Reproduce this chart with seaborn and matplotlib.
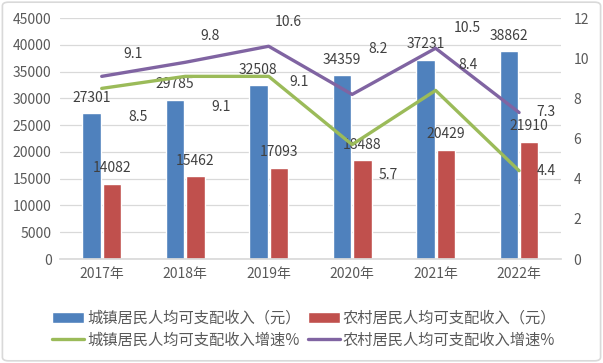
import numpy as np
import pandas as pd
import matplotlib
matplotlib.use("Agg")
import matplotlib.pyplot as plt
from matplotlib.patches import FancyBboxPatch, Patch
from matplotlib.lines import Line2D
import seaborn as sns

# data
years = ["2017年", "2018年", "2019年", "2020年", "2021年", "2022年"]
urban_income = [27301, 29785, 32508, 34359, 37231, 38862]
rural_income = [14082, 15462, 17093, 18488, 20429, 21910]
urban_growth = [8.5, 9.1, 9.1, 5.7, 8.4, 4.4]
rural_growth = [9.1, 9.8, 10.6, 8.2, 10.5, 7.3]

urban_name = "城镇居民人均可支配收入（元）"
rural_name = "农村居民人均可支配收入（元）"
urban_g_name = "城镇居民人均可支配收入增速%"
rural_g_name = "农村居民人均可支配收入增速%"

# label offsets for the growth labels (pixels, dx, dy with y up)
urban_lbl_off = [(36, -29), (36, -31), (30, -6), (36, -30), (32, 25), (27, 0)]
rural_lbl_off = [(31, 22), (25, 26), (20, 24), (26, 45), (32, 20), (27, 0)]

C_BLUE = "#4f81bd"
C_RED = "#c0504d"
C_GREEN = "#9bbb59"
C_PURPLE = "#8064a2"
TXT = "#404040"
TICK = "#595959"

sns.set_theme(style="white")
plt.rcParams["font.family"] = ["Noto Sans CJK SC", "DejaVu Sans"]

bars = pd.DataFrame({
    "year": years * 2,
    "value": urban_income + rural_income,
    "series": [urban_name] * 6 + [rural_name] * 6,
})
lines = pd.DataFrame({
    "pos": list(range(len(years))) * 2,
    "rate": urban_growth + rural_growth,
    "series": [urban_g_name] * 6 + [rural_g_name] * 6,
})

fig = plt.figure(figsize=(6.03, 3.63), dpi=100)
ax = fig.add_axes([0.0995, 0.2865, 0.8305, 0.6635])

sns.barplot(data=bars, x="year", y="value", hue="series", order=years,
            palette=[C_BLUE, C_RED], width=0.49, gap=0.1, saturation=1,
            ax=ax, legend=False)

ax.set_ylim(0, 45000)
ax.set_yticks(np.arange(0, 45001, 5000))
ax.set_xlim(-0.5, len(years) - 0.5)
ax.set_xlabel("")
ax.set_ylabel("")
ax.grid(True, axis="y", color="#d9d9d9", linewidth=0.9)
ax.set_axisbelow(True)
for s in ["top", "left", "right"]:
    ax.spines[s].set_visible(False)
ax.spines["bottom"].set_color("#d9d9d9")
ax.tick_params(axis="y", length=0, pad=6, labelsize=10, labelcolor=TICK)
ax.tick_params(axis="x", length=0, pad=6, labelsize=10, labelcolor=TICK)

for cont in ax.containers:
    ax.bar_label(cont, padding=6, fontsize=10, color=TXT)

ax2 = ax.twinx()
sns.lineplot(data=lines, x="pos", y="rate", hue="series",
             palette=[C_GREEN, C_PURPLE], linewidth=2.4, ax=ax2, legend=False)
ax2.set_ylim(0, 12)
ax2.set_yticks(np.arange(0, 13, 2))
ax2.set_xlim(-0.5, len(years) - 0.5)
ax2.set_xlabel("")
ax2.set_ylabel("")
for s in ["top", "left", "right", "bottom"]:
    ax2.spines[s].set_visible(False)
ax2.tick_params(axis="y", length=0, pad=9, labelsize=10, labelcolor=TICK)

for i, v in enumerate(urban_growth):
    dx, dy = urban_lbl_off[i]
    ax2.annotate(f"{v}", (i, v), xytext=(dx * 0.72, dy * 0.72), textcoords="offset points",
                 ha="center", va="center", fontsize=10, color=TXT)
for i, v in enumerate(rural_growth):
    dx, dy = rural_lbl_off[i]
    ax2.annotate(f"{v}", (i, v), xytext=(dx * 0.72, dy * 0.72), textcoords="offset points",
                 ha="center", va="center", fontsize=10, color=TXT)

# legend: bars on first row, lines on second
handles = [
    Patch(facecolor=C_BLUE, label=urban_name),
    Line2D([], [], color=C_GREEN, linewidth=2.4, label=urban_g_name),
    Patch(facecolor=C_RED, label=rural_name),
    Line2D([], [], color=C_PURPLE, linewidth=2.4, label=rural_g_name),
]
fig.legend(handles=handles, ncol=2, loc="upper left", bbox_to_anchor=(52 / 603, 1 - 310 / 363),
           frameon=False, fontsize=11, handlelength=2.1, handleheight=0.7,
           handletextpad=0.2, columnspacing=0.45, labelspacing=0.3, borderpad=0,
           borderaxespad=0, labelcolor=TICK)

border = FancyBboxPatch((0.004, 0.006), 0.992, 0.988, boxstyle="round,pad=0,rounding_size=0.01",
                        transform=fig.transFigure, facecolor="none", edgecolor="#d9d9d9",
                        linewidth=1.2)
fig.patches.append(border)

fig.savefig("out.png", dpi=100)
